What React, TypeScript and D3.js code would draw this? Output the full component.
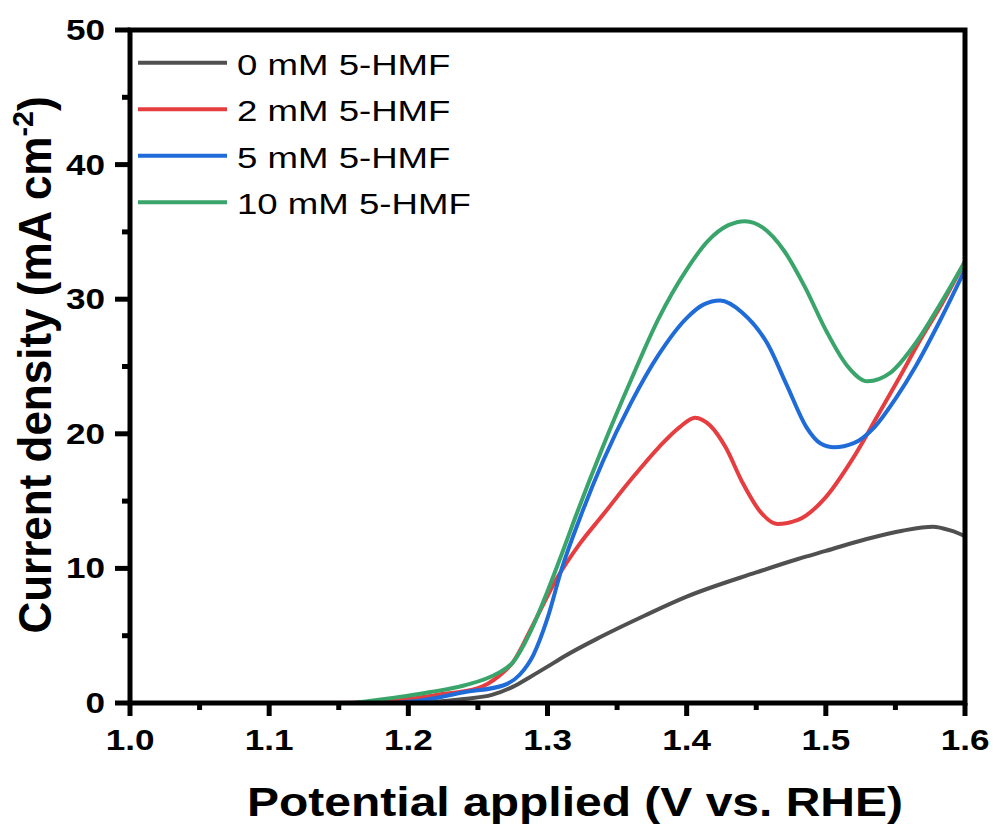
import React from "react";
import * as d3 from "d3";

const W = 994;
const H = 832;

const seriesNames = ["0 mM 5-HMF", "2 mM 5-HMF", "5 mM 5-HMF", "10 mM 5-HMF"];
const seriesColors = ["#505050", "#e63e40", "#1f6bd8", "#3aa56b"];

const v0 = [1.2, 1.22, 1.24, 1.26, 1.275, 1.287, 1.3, 1.311, 1.338, 1.37, 1.4, 1.45, 1.48, 1.5, 1.53, 1.555, 1.577, 1.59, 1.6];
const j0 = [0.0, 0.1, 0.3, 0.6, 1.2, 1.9, 2.7, 3.4, 4.9, 6.5, 7.9, 9.7, 10.7, 11.3, 12.2, 12.8, 13.1, 12.8, 12.4];

const v2 = [1.15, 1.17, 1.2, 1.22, 1.25, 1.265, 1.275, 1.29, 1.307, 1.323, 1.34, 1.36, 1.38, 1.395, 1.406, 1.417, 1.428, 1.44, 1.453, 1.465, 1.48, 1.5, 1.519, 1.537, 1.553, 1.568, 1.582, 1.6];
const j2 = [0, 0.05, 0.3, 0.6, 1.1, 2.0, 3.0, 5.9, 9.3, 11.8, 14.0, 16.6, 19.0, 20.5, 21.2, 20.6, 19.0, 16.4, 14.2, 13.3, 13.6, 15.3, 18.1, 21.3, 24.2, 27.0, 29.4, 32.8];

const v5 = [1.19, 1.21, 1.24, 1.268, 1.28, 1.29, 1.3, 1.31, 1.325, 1.34, 1.36, 1.38, 1.4, 1.412, 1.424, 1.44, 1.458, 1.472, 1.486, 1.496, 1.506, 1.52, 1.535, 1.55, 1.565, 1.582, 1.6];
const j5 = [0, 0.2, 0.8, 1.3, 2.1, 3.6, 6.3, 9.9, 14.2, 18.0, 22.3, 25.9, 28.6, 29.6, 29.9, 29.0, 26.7, 23.6, 20.5, 19.3, 19.0, 19.3, 20.5, 22.6, 25.1, 28.4, 32.2];

const v10 = [1.16, 1.19, 1.215, 1.24, 1.264, 1.275, 1.29, 1.3, 1.31, 1.32, 1.33, 1.34, 1.36, 1.38, 1.4, 1.415, 1.43, 1.442, 1.455, 1.47, 1.485, 1.5, 1.515, 1.53, 1.546, 1.565, 1.582, 1.6];
const j10 = [0, 0.4, 0.8, 1.3, 2.2, 3.0, 5.8, 8.3, 11.0, 13.8, 16.5, 19.1, 24.0, 28.6, 32.2, 34.3, 35.5, 35.8, 35.3, 33.6, 30.9, 27.7, 25.1, 23.9, 24.5, 26.8, 29.6, 32.8];

const xTicks = [1.0, 1.1, 1.2, 1.3, 1.4, 1.5, 1.6];
const xTickLabels = ["1.0", "1.1", "1.2", "1.3", "1.4", "1.5", "1.6"];
const xMinor = [1.05, 1.15, 1.25, 1.35, 1.45, 1.55];
const yTicks = [0, 10, 20, 30, 40, 50];
const yMinor = [5, 15, 25, 35, 45];

const xTitle = "Potential applied (V vs. RHE)";

const FONT = "'Liberation Sans', Arial, Helvetica, sans-serif";

export default function App() {
  const left = 130, right = 965, top = 30, bottom = 703;
  const x = d3.scaleLinear().domain([1.0, 1.6]).range([left, right]);
  const y = d3.scaleLinear().domain([0, 50]).range([bottom, top]);

  const series = [
    { v: v0, j: j0 },
    { v: v2, j: j2 },
    { v: v5, j: j5 },
    { v: v10, j: j10 },
  ];

  const line = d3
    .line<[number, number]>()
    .x((d) => x(d[0]))
    .y((d) => y(Math.max(0, d[1])))
    .curve(d3.curveMonotoneX);

  const sx = 1.17;
  const axW = 5;

  return (
    <div style={{ position: "absolute", left: 0, top: 0 }}>
      <svg width={W} height={H} style={{ display: "block", background: "#fff" }}>
        <defs>
          <clipPath id="plotclip">
            <rect x={left} y={top} width={right - left} height={bottom - top} />
          </clipPath>
        </defs>

        <g clipPath="url(#plotclip)">
          {series.map((s, i) => (
            <path
              key={i}
              d={line(s.v.map((vv, k) => [vv, s.j[k]] as [number, number])) || ""}
              fill="none"
              stroke={seriesColors[i]}
              strokeWidth={4}
              strokeLinejoin="round"
              strokeLinecap="round"
            />
          ))}
        </g>

        <rect x={left} y={top} width={right - left} height={bottom - top} fill="none" stroke="#000" strokeWidth={axW} />

        {xTicks.map((t, i) => (
          <line key={"xt" + i} x1={x(t)} x2={x(t)} y1={bottom} y2={bottom + 13} stroke="#000" strokeWidth={axW} />
        ))}
        {xMinor.map((t, i) => (
          <line key={"xm" + i} x1={x(t)} x2={x(t)} y1={bottom} y2={bottom + 7} stroke="#000" strokeWidth={axW} />
        ))}
        {xTicks.map((t, i) => (
          <g key={"xl" + i} transform={`translate(${x(t)},750) scale(${sx},1)`}>
            <text textAnchor="middle" fontFamily={FONT} fontWeight="bold" fontSize={30} fill="#000">
              {xTickLabels[i]}
            </text>
          </g>
        ))}

        {yTicks.map((t, i) => (
          <line key={"yt" + i} x1={left - 15} x2={left} y1={y(t)} y2={y(t)} stroke="#000" strokeWidth={axW} />
        ))}
        {yMinor.map((t, i) => (
          <line key={"ym" + i} x1={left - 8} x2={left} y1={y(t)} y2={y(t)} stroke="#000" strokeWidth={axW} />
        ))}
        {yTicks.map((t, i) => (
          <g key={"yl" + i} transform={`translate(105,${y(t) + 10}) scale(${sx},1)`}>
            <text textAnchor="end" fontFamily={FONT} fontWeight="bold" fontSize={30} fill="#000">
              {String(t)}
            </text>
          </g>
        ))}

        <g transform={`translate(575,816) scale(1.2,1)`}>
          <text textAnchor="middle" fontFamily={FONT} fontWeight="bold" fontSize={40} fill="#000">
            {xTitle}
          </text>
        </g>

        <g transform={`translate(51,365) rotate(-90) scale(1.1,1.15)`}>
          <text textAnchor="middle" fontFamily={FONT} fontWeight="bold" fontSize={40} fill="#000">
            Current density (mA cm
            <tspan fontSize={26} dy={-16}>-2</tspan>
            <tspan dy={16}>)</tspan>
          </text>
        </g>

        {seriesNames.map((name, i) => {
          const ly = 62.7 + i * 46.5;
          return (
            <g key={"lg" + i}>
              <line x1={138} x2={227} y1={ly} y2={ly} stroke={seriesColors[i]} strokeWidth={4} />
              <g transform={`translate(237,${ly + 12}) scale(1.22,1)`}>
                <text fontFamily={FONT} fontSize={30} fill="#000">
                  {name}
                </text>
              </g>
            </g>
          );
        })}
      </svg>
    </div>
  );
}
